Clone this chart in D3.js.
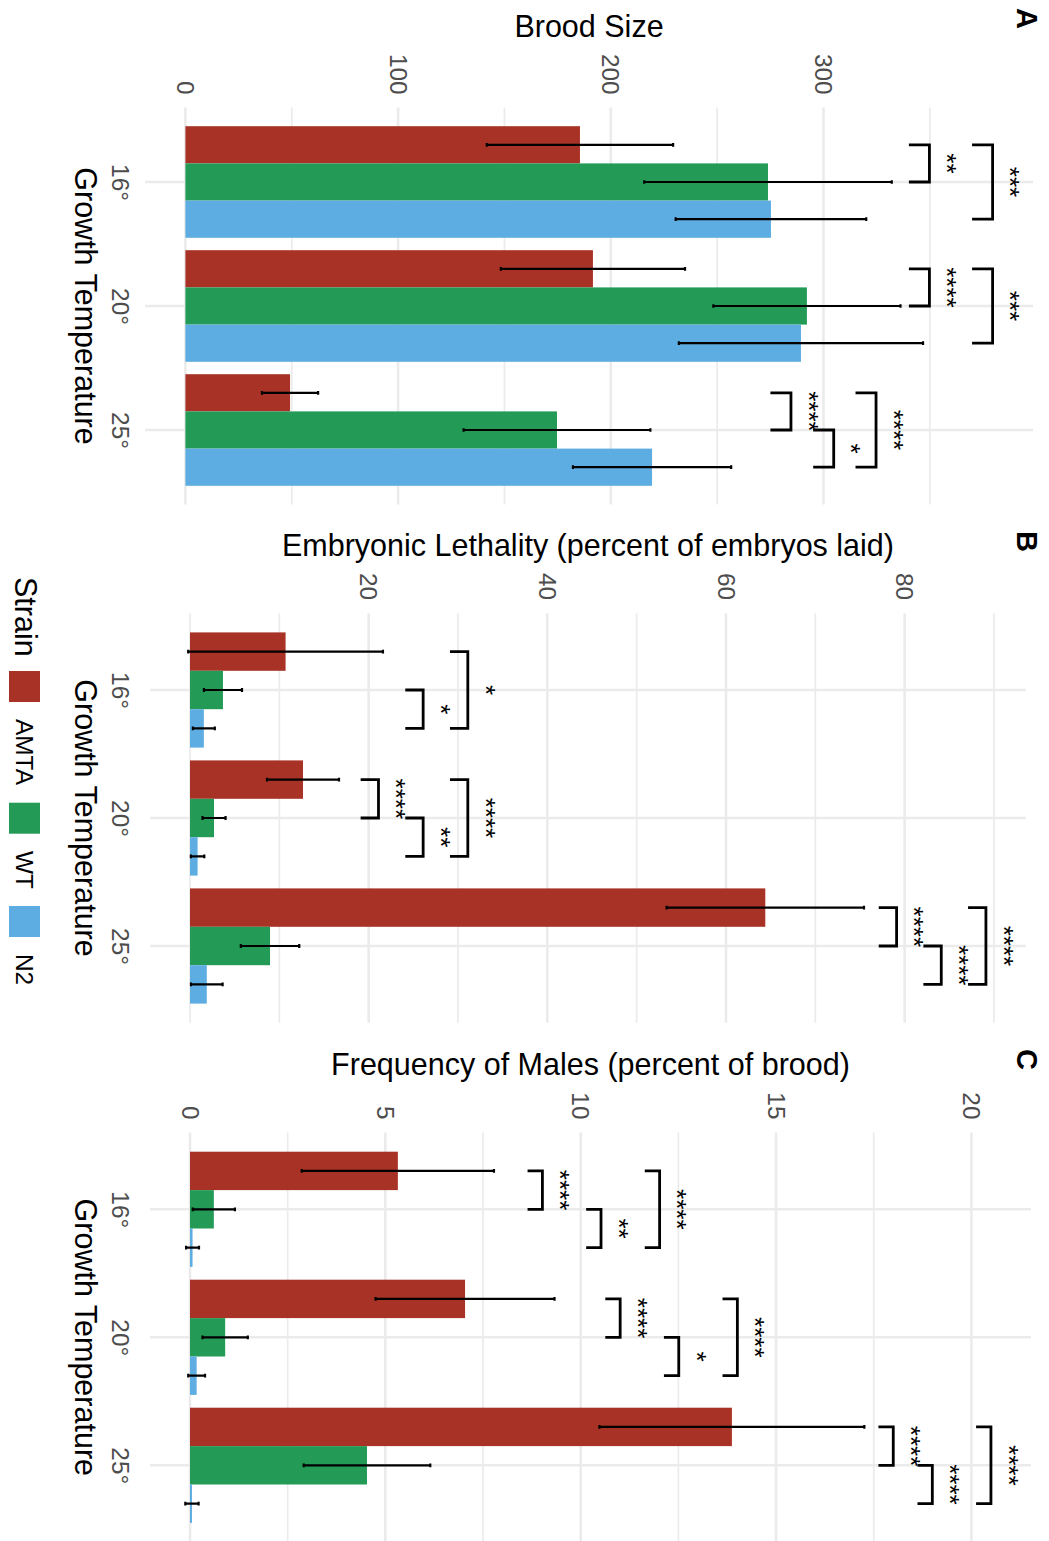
<!DOCTYPE html>
<html><head><meta charset="utf-8">
<script src="https://cdn.jsdelivr.net/npm/d3@7"></script>
<style>body{margin:0;background:#fff} text{font-family:"Liberation Sans",Arial,Helvetica,sans-serif}</style>
</head><body><svg id="c" width="1049" height="1541"></svg>
<script>
// ---------- data ----------
const temps = ["16°","20°","25°"];
const strains = ["AMTA","WT","N2"];
const strainColors = ["#A93226","#239B56","#5DADE2"];

// rows = temperature, cols = strain (AMTA, WT, N2)
const broodMean = [[185.5,273.9,275.3],[191.6,292.2,289.4],[49.2,174.7,219.4]];
const broodErr  = [[43.8,58.2,44.8],[43.3,44.0,57.4],[13.2,43.9,37.2]];
const lethMean  = [[10.7,3.69,1.55],[12.65,2.69,0.85],[64.4,8.96,1.88]];
const lethErr   = [[10.9,2.13,1.23],[4.03,1.29,0.75],[11.05,3.27,1.77]];
const maleMean  = [[5.32,0.61,0.065],[7.04,0.9,0.17],[13.87,4.53,0.05]];
const maleErr   = [[2.46,0.54,0.165],[2.29,0.58,0.215],[3.39,1.62,0.17]];

const broodTicks = [0,100,200,300];
const lethTicks = [20,40,60,80];
const maleTicks = [0,5,10,15,20];

const broodSig = [
  ["16°","AMTA","WT",349.8,"**"],["16°","AMTA","N2",379.5,"***"],
  ["20°","AMTA","WT",349.8,"****"],["20°","AMTA","N2",379.5,"***"],
  ["25°","AMTA","WT",284.7,"****"],["25°","WT","N2",304.8,"*"],["25°","AMTA","N2",324.7,"****"]
];
const lethSig = [
  ["16°","WT","N2",26.1,"*"],["16°","AMTA","N2",31.1,"*"],
  ["20°","AMTA","WT",21.1,"****"],["20°","WT","N2",26.1,"**"],["20°","AMTA","N2",31.1,"****"],
  ["25°","AMTA","WT",79.1,"****"],["25°","WT","N2",84.1,"****"],["25°","AMTA","N2",89.1,"****"]
];
const maleSig = [
  ["16°","AMTA","WT",9.02,"****"],["16°","WT","N2",10.52,"**"],["16°","AMTA","N2",12.02,"****"],
  ["20°","AMTA","WT",11.01,"****"],["20°","WT","N2",12.51,"*"],["20°","AMTA","N2",14.01,"****"],
  ["25°","AMTA","WT",18.0,"****"],["25°","WT","N2",19.0,"****"],["25°","AMTA","N2",20.5,"****"]
];

// ---------- layout ----------
const W = 1049;
const svg = d3.select("#c");
svg.append("rect").attr("width",1049).attr("height",1541).attr("fill","#fff");
// original landscape chart, rotated 90deg clockwise
const root = svg.append("g").attr("transform",`translate(${W},0) rotate(90)`);

const GRID = "#EBEBEB";
const TICKC = "#4D4D4D";

function panel(cfg){
  const g = root.append("g");
  const y = d3.scaleLinear().domain([0,1]).range([W - cfg.zeroX, W - cfg.zeroX - cfg.ppu]);
  const vTop = y(cfg.hi), vBot = y(cfg.lo);
  const x = d3.scalePoint().domain(temps).range(cfg.uRange).padding(0.6);
  const step = x.step();
  const bw = step*0.9/3;
  const [u0,u1] = cfg.uRange;

  // minor grid
  g.selectAll(".mn").data(cfg.minors).join("line")
    .attr("x1",u0).attr("x2",u1).attr("y1",d=>y(d)).attr("y2",d=>y(d))
    .attr("stroke",GRID).attr("stroke-width",1.7);
  // major grid
  g.selectAll(".mj").data(cfg.ticks).join("line")
    .attr("x1",u0).attr("x2",u1).attr("y1",d=>y(d)).attr("y2",d=>y(d))
    .attr("stroke",GRID).attr("stroke-width",2.6);
  g.selectAll(".cg").data(temps).join("line")
    .attr("x1",d=>x(d)).attr("x2",d=>x(d)).attr("y1",vTop).attr("y2",vBot)
    .attr("stroke",GRID).attr("stroke-width",2.6);

  const cells = [];
  temps.forEach((t,i)=>strains.forEach((s,j)=>{
    cells.push({t,s,j,m:cfg.mean[i][j],e:cfg.err[i][j],u:x(t)+(j-1)*bw});
  }));
  g.selectAll(".bar").data(cells).join("rect")
    .attr("x",d=>d.u-bw/2).attr("width",bw)
    .attr("y",d=>y(d.m)).attr("height",d=>y(0)-y(d.m))
    .attr("fill",d=>strainColors[d.j]);
  const cap = bw*0.1;
  const eb = g.selectAll(".eb").data(cells).join("path")
    .attr("d",d=>{
      const a=y(d.m-d.e), b=y(d.m+d.e);
      return `M${d.u},${a}L${d.u},${b}M${d.u-cap/2},${a}L${d.u+cap/2},${a}M${d.u-cap/2},${b}L${d.u+cap/2},${b}`;
    })
    .attr("stroke","#000").attr("stroke-width",2.2).attr("fill","none");

  // significance brackets
  const uOf = (t,s)=>x(t)+(strains.indexOf(s)-1)*bw;
  g.selectAll(".br").data(cfg.sig).join("path")
    .attr("d",d=>{
      const a=uOf(d[0],d[1]), b=uOf(d[0],d[2]);
      const v=y(d[3]), vt=y(d[3]-cfg.tip);
      return `M${a},${vt}L${a},${v}L${b},${v}L${b},${vt}`;
    })
    .attr("stroke","#000").attr("stroke-width",2.8).attr("fill","none")
    .attr("stroke-linejoin","miter");
  const fs = 26;
  g.selectAll(".sl").data(cfg.sig).join("text")
    .attr("x",d=>(uOf(d[0],d[1])+uOf(d[0],d[2]))/2)
    .attr("y",d=>y(d[3]) - 23.7 + 0.575*fs)
    .attr("text-anchor","middle").attr("font-size",fs).attr("fill","#000")
    .text(d=>d[4]);

  // value axis
  const ya = g.append("g").attr("transform",`translate(${u0},0)`)
    .call(d3.axisLeft(y).tickValues(cfg.ticks).tickSize(0).tickPadding(13).tickFormat(d3.format("d")));
  ya.select(".domain").remove();
  ya.selectAll("text").attr("font-size",24.4).attr("fill",TICKC).attr("font-family",null);

  // category axis
  const xa = g.append("g").attr("transform",`translate(0,919.5)`)
    .call(d3.axisBottom(x).tickSize(0).tickPadding(0));
  xa.select(".domain").remove();
  xa.selectAll("text").attr("font-size",24.4).attr("fill",TICKC).attr("font-family",null);

  // titles
  g.append("text").attr("transform",`translate(${cfg.titleU},${(vTop+vBot)/2}) rotate(-90)`)
    .attr("text-anchor","middle").attr("font-size",30.5).attr("fill","#000").text(cfg.title);
  g.append("text").attr("x",(u0+u1)/2).attr("y",974).attr("text-anchor","middle")
    .attr("font-size",30.5).attr("fill","#000").text("Growth Temperature");
  g.append("text").attr("x",cfg.letterU).attr("y",32).attr("font-size",29)
    .attr("font-weight","bold").attr("fill","#000").text(cfg.letter);
}

panel({mean:broodMean, err:broodErr, sig:broodSig, ticks:broodTicks, minors:[50,150,250,350],
  title:"Brood Size", letter:"A", letterU:8, uRange:[107.6,504.4], zeroX:185.4, ppu:2.127,
  lo:-19.0, hi:398.5, tip:9.65, titleU:37});
panel({mean:lethMean, err:lethErr, sig:lethSig, ticks:lethTicks, minors:[0,10,30,50,70,90],
  title:"Embryonic Lethality (percent of embryos laid)", letter:"B", letterU:531, uRange:[613.2,1022.8], zeroX:190, ppu:8.933,
  lo:-4.455, hi:93.555, tip:2.0, titleU:556});
panel({mean:maleMean, err:maleErr, sig:maleSig, ticks:maleTicks, minors:[2.5,7.5,12.5,17.5],
  title:"Frequency of Males (percent of brood)", letter:"C", letterU:1049, uRange:[1132.5,1542.1], zeroX:190, ppu:39.07,
  lo:-1.025, hi:21.525, tip:0.38, titleU:1075});

// legend
const lg = root.append("g");
lg.append("text").attr("x",577).attr("y",1034).attr("font-size",30.5).attr("fill","#000").text("Strain");
const keyU = [671, 802.7, 906];
const labU = [719, 851, 954];
strains.forEach((s,j)=>{
  lg.append("rect").attr("x",keyU[j]).attr("y",1009).attr("width",31).attr("height",31).attr("fill",strainColors[j]);
  lg.append("text").attr("x",labU[j]).attr("y",1032.7).attr("font-size",24.4).attr("fill","#000").text(s);
});
</script></body></html>
